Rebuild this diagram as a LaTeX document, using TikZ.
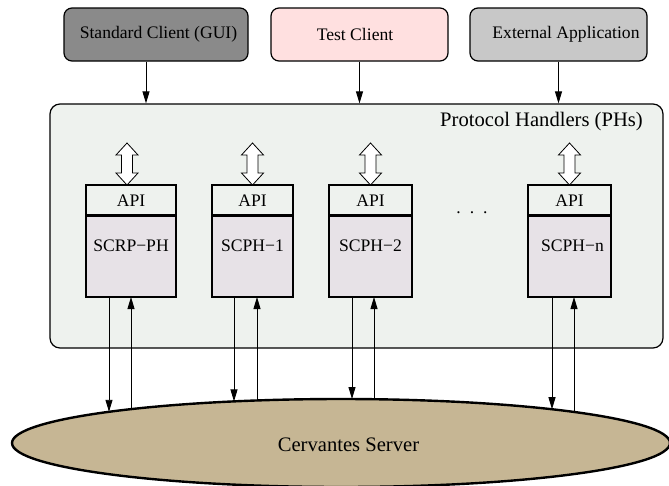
\documentclass[tikz,border=0pt]{standalone}
\usepackage{fontspec}
\setmainfont{Liberation Serif}
\usetikzlibrary{arrows.meta,shapes.geometric,calc}

\definecolor{guigray}{HTML}{8A8A8A}
\definecolor{testpink}{HTML}{FFE0E0}
\definecolor{extgray}{HTML}{C8C8C8}
\definecolor{phback}{HTML}{EEF2EE}
\definecolor{phbody}{HTML}{E7E2E7}
\definecolor{servertan}{HTML}{C6B694}

\tikzset{
  smallfont/.style={font=\fontsize{17.6}{20}\selectfont},
  bigfont/.style={font=\fontsize{20.6}{24}\selectfont},
  client/.style={draw, line width=1.2pt, rounded corners=8pt,
    minimum height=53pt, inner sep=0pt, smallfont},
  phframe/.style={draw, line width=1.2pt, rounded corners=10pt,
    fill=phback, minimum width=613pt, minimum height=244pt, inner sep=0pt},
  apibox/.style={draw, line width=2.4pt, fill=phback, outer sep=0pt,
    minimum height=30.5pt, inner sep=0pt, smallfont},
  bodybox/.style={draw, line width=2.4pt, fill=phbody, outer sep=0pt,
    minimum height=81.5pt, inner sep=0pt, anchor=north, smallfont},
  server/.style={draw, ellipse, line width=2.4pt, fill=servertan,
    minimum width=658pt, minimum height=88pt, inner sep=0pt},
  arr/.style={line width=0.9pt, -{Triangle[length=12pt,width=7pt]}},
  pics/dblarrow/.style={code={
    \draw[line width=0.8pt, fill=white]
      (0,0) -- (11,-12) -- (5.5,-12) -- (5.5,-30) -- (11,-30) -- (0,-42)
      -- (-11,-30) -- (-5.5,-30) -- (-5.5,-12) -- (-11,-12) -- cycle;
  }}
}

\begin{document}
\begin{tikzpicture}[x=1pt,y=-1pt]
\useasboundingbox (0,0) rectangle (669,485);

% clients
\node[client, fill=guigray, minimum width=184pt,
  label={[smallfont, xshift=2.5pt]center:Standard Client (GUI)}] (std) at (156,34.5) {};
\node[client, fill=testpink, minimum width=177pt,
  label={[smallfont, xshift=-4.5pt]center:Test Client}] (tst) at (359.5,34.5) {};
\node[client, fill=extgray, minimum width=177pt,
  label={[smallfont, xshift=7.5pt]center:External Application}] (ext) at (558.5,34.5) {};

% protocol handler frame
\node[phframe] (ph) at (356.5,226) {};
\node[bigfont] (phlabel) at (541.5,122) {Protocol Handlers (PHs)};

% protocol handlers: API part on top, handler body below
\node[apibox, minimum width=90pt] (a0) at (131,200.25) {API};
\node[bodybox, minimum width=90pt, label={[smallfont, yshift=10pt]center:SCRP−PH}] (b0) at (a0.south) {};
\node[apibox, minimum width=81pt] (a1) at (252.5,200.25) {API};
\node[bodybox, minimum width=81pt, label={[smallfont, yshift=10pt]center:SCPH−1}] (b1) at (a1.south) {};
\node[apibox, minimum width=83pt] (a2) at (370.5,200.25) {API};
\node[bodybox, minimum width=83pt, label={[smallfont, yshift=10pt]center:SCPH−2}] (b2) at (a2.south) {};
\node[apibox, minimum width=83pt] (an) at (569.5,200.25) {API};
\node[bodybox, minimum width=83pt, label={[smallfont, xshift=3pt, yshift=10pt]center:SCPH−n}] (bn) at (an.south) {};

\node[smallfont, inner sep=0pt] (dots) at (472,213) {.\hspace{9pt}.\hspace{9pt}.};

% API access arrows
\pic at ([xshift=-4pt]a0.north) {dblarrow};
\pic at (a1.north) {dblarrow};
\pic at (a2.north) {dblarrow};
\pic at (an.north) {dblarrow};

% client connections
\draw[arr] ([xshift=-10pt]std.south) -- ([xshift=-10pt]std.south |- ph.north);
\draw[arr] (tst.south) -- (tst.south |- ph.north);
\draw[arr] (ext.south) -- (ext.south |- ph.north);

% server
\node[server, label={[bigfont, xshift=7.5pt, yshift=-2pt]center:Cervantes Server}] (srv) at (341,443) {};

\foreach \n/\x in {d0/109, u0/131, d1/234, u1/257, d2/352, u2/374, dn/552, un/574}
  \coordinate (\n) at (\x, {443-44*sqrt(1-((\x-341)/329)^2)});

\draw[arr] (d0 |- b0.south) -- (d0);
\draw[arr] (u0) -- (u0 |- b0.south);
\draw[arr] (d1 |- b1.south) -- (d1);
\draw[arr] (u1) -- (u1 |- b1.south);
\draw[arr] (d2 |- b2.south) -- (d2);
\draw[arr] (u2) -- (u2 |- b2.south);
\draw[arr] (dn |- bn.south) -- (dn);
\draw[arr] (un) -- (un |- bn.south);
\end{tikzpicture}
\end{document}
